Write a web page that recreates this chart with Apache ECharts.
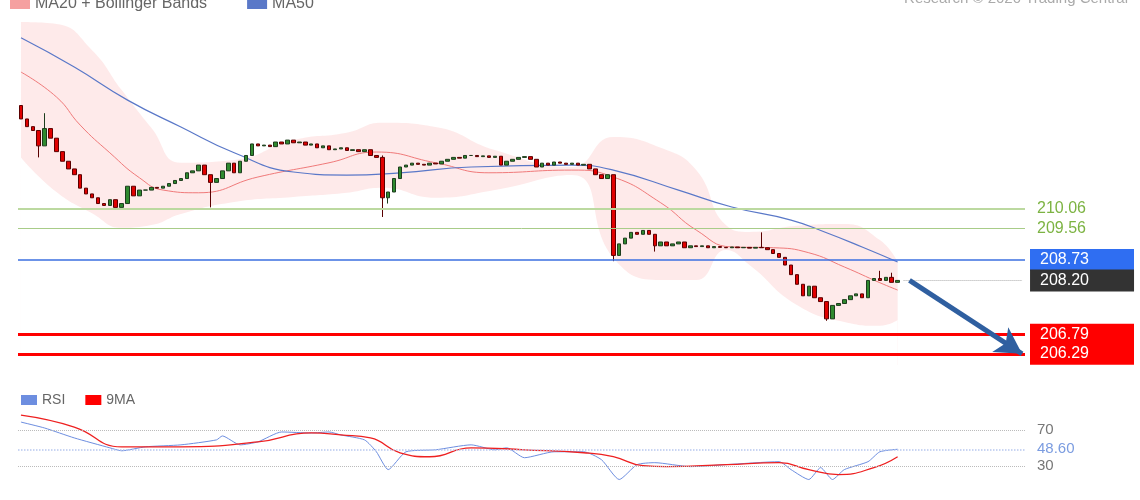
<!DOCTYPE html>
<html>
<head>
<meta charset="utf-8">
<script src="https://cdn.jsdelivr.net/npm/echarts@6/dist/echarts.min.js"></script>
<style>
  html, body { margin: 0; padding: 0; background: #fff; }
  #chart { width: 1140px; height: 500px; }
</style>
</head>
<body>
<div id="chart"></div>
<script>
// price candles: closes, open of each bar is the previous close
const firstOpen = 212.75
const closes = [
  212.40, 212.20, 212.10, 211.70, 212.15, 211.90, 211.55, 211.30, 211.10, 210.95,
  210.60, 210.45, 210.35, 210.20, 210.15, 210.30, 210.10, 210.20, 210.65, 210.40,
  210.55, 210.55, 210.62, 210.60, 210.65, 210.72, 210.80, 210.85, 211.00, 211.05,
  211.20, 210.95, 210.75, 210.85, 211.05, 211.25, 211.00, 211.30, 211.45, 211.75,
  211.70, 211.72, 211.68, 211.80, 211.75, 211.85, 211.78, 211.80, 211.72, 211.75,
  211.65, 211.70, 211.60, 211.62, 211.65, 211.58, 211.60, 211.55, 211.60, 211.45,
  211.40, 210.35, 210.50, 210.85, 211.15, 211.20, 211.25, 211.22, 211.20, 211.25,
  211.23, 211.30, 211.35, 211.40, 211.38, 211.45, 211.45, 211.42, 211.44, 211.40,
  211.43, 211.20, 211.30, 211.35, 211.40, 211.42, 211.35, 211.15, 211.25, 211.20,
  211.28, 211.25, 211.22, 211.25, 211.20, 211.22, 211.10, 210.95, 210.85, 210.95,
  208.85, 209.15, 209.30, 209.45, 209.40, 209.50, 209.40, 209.10, 209.20, 209.10,
  209.15, 209.20, 209.05, 209.10, 209.08, 209.10, 209.05, 209.08, 209.06, 209.05,
  209.07, 209.05, 209.06, 209.04, 209.06, 209.05, 209.00, 208.90, 208.80, 208.60,
  208.35, 208.10, 207.80, 208.05, 207.75, 207.65, 207.20, 207.55, 207.60, 207.70,
  207.80, 207.85, 207.75, 208.20, 208.25, 208.20, 208.28, 208.15, 208.20
]
// wicks that reach beyond the body: index -> [low, high]
const wicks = {
  3: [211.40, 212.10], 4: [211.70, 212.55], 32: [210.10, 210.95], 61: [209.85, 211.45],
  62: [210.20, 210.50], 100: [208.70, 210.95], 107: [208.95, 209.40],
  125: [209.05, 209.45], 136: [207.15, 207.65], 145: [208.20, 208.45], 147: [208.15, 208.40]
}

// MA and bands as [bar index, value]
const ma20 = [[0,213.62],[6,212.97],[10,212.24],[15,211.52],[20,210.87],[24,210.55],[30,210.48],
  [40,210.89],[52,211.26],[60,211.54],[70,211.26],[79,211.00],[93,211.07],[100,210.89],
  [108,210.22],[114,209.51],[120,209.07],[127,209.05],[133,208.92],[139,208.55],[145,208.14],[148,207.95]]
const ma50 = [[0,214.51],[9,213.75],[18,212.89],[27,212.19],[36,211.52],[46,211.02],[55,210.94],
  [64,211.00],[76,211.15],[93,211.20],[100,211.07],[111,210.55],[120,210.11],[130,209.77],
  [136,209.44],[142,209.07],[148,208.68]]
const bandIdx = [0, 6, 12, 17, 22, 27, 36, 46, 55, 61, 70, 80, 93, 100, 108, 114, 119, 123, 131, 139, 145, 148]
const bandUpper = [214.92, 214.87, 214.19, 213.15, 212.17, 211.26, 211.33, 211.85, 212.04, 212.30, 212.19,
  211.59, 211.15, 211.93, 211.65, 211.07, 209.64, 209.46, 209.62, 209.67, 209.25, 208.68]
const bandLower = [211.40, 210.50, 209.95, 209.57, 209.64, 209.93, 210.24, 210.37, 210.48, 210.61, 210.35,
  210.55, 210.94, 208.79, 208.21, 208.21, 208.99, 208.60, 207.56, 207.12, 207.02, 207.17]

// RSI pane
const rsi = [[0,78.8],[4,72.2],[9,61.2],[15,50.2],[17,46.9],[21,51.3],[27,53.5],[33,59.0],[34,63.4],
  [37,53.5],[40,56.8],[44,67.8],[49,66.7],[52,67.8],[54,64.5],[58,59.0],[60,45.8],[62,26.0],[65,45.8],
  [70,48.0],[76,53.5],[80,48.0],[82,50.2],[85,39.2],[90,45.8],[95,45.8],[98,37.0],[101,15.0],[104,31.5],
  [107,33.7],[113,29.3],[119,31.5],[128,34.8],[130,26.0],[133,15.0],[135,28.2],[137,15.0],[139,26.0],
  [143,34.8],[145,45.8],[148,48.6]]
const rsiMa = [[0,86.5],[9,73.3],[17,51.3],[27,51.3],[40,56.8],[49,66.7],[54,64.5],[59,61.2],[64,44.7],
  [69,40.3],[76,50.2],[85,48.0],[95,44.7],[100,40.3],[105,30.4],[109,29.3],[119,31.5],[128,33.7],
  [133,26.0],[138,20.5],[144,28.2],[148,40.3]]

// levels
const resistances = [210.06, 209.56]
const pivot = 208.73
const lastPrice = 208.20
const supports = [206.79, 206.29]
const rsiLevels = [70, 30]
const rsiLast = 48.60

const nCats = 170
const cats = []
for (let i = 0; i < nCats; i++) cats.push('b' + i)

const candles = closes.map((c, i) => {
  const o = i ? closes[i - 1] : firstOpen
  const w = wicks[i] || [Math.min(o, c), Math.max(o, c)]
  return [o, c, Math.min(w[0], o, c), Math.max(w[1], o, c)]
})
const upperData = bandIdx.map((x, i) => [x, bandUpper[i]])
const lowerData = bandIdx.map((x, i) => [x, bandLower[i]])

const font = 'Liberation Sans'
const boxLabel = (bg, fg, text, dist) => ({
  show: true, position: 'end', distance: dist || 5, formatter: text || '{c}', color: fg,
  backgroundColor: bg, fontSize: 16, fontFamily: font, width: 88, height: 17,
  padding: [3, 6, 2, 10], align: 'left'
})

const el = echarts.init(document.getElementById('chart'), null, { renderer: 'canvas' })
el.setOption({
  animation: false,
  backgroundColor: '#fff',
  textStyle: { fontFamily: font },
  legend: [
    {
      data: ['MA20 + Bollinger Bands', 'MA50'], left: 5, top: -9, itemWidth: 20, itemHeight: 10,
      itemGap: 40, icon: 'rect', selectedMode: false,
      textStyle: { color: '#666', fontSize: 16, fontFamily: font }
    },
    {
      data: ['RSI', '9MA'], left: 16, top: 388, itemWidth: 16, itemHeight: 10, itemGap: 20,
      icon: 'rect', selectedMode: false, textStyle: { color: '#666', fontSize: 14, fontFamily: font }
    }
  ],
  graphic: [{
    type: 'text', right: 12, top: -9,
    style: { text: 'Research © 2020 Trading Central', fill: '#aaa', fontSize: 15, fontFamily: font }
  }],
  grid: [
    { left: 18, right: 115, top: 19, height: 346 },
    { left: 18, right: 115, top: 403, height: 90 }
  ],
  xAxis: [
    { type: 'category', data: cats, gridIndex: 0, show: false },
    { type: 'category', data: cats, gridIndex: 1, show: false }
  ],
  yAxis: [
    { type: 'value', min: 206, max: 215, gridIndex: 0, show: false, splitLine: { show: false } },
    { type: 'value', min: 0, max: 100, gridIndex: 1, show: false, splitLine: { show: false } }
  ],
  series: [
    {
      name: 'bandUpper', type: 'line', data: upperData, smooth: true, symbol: 'none', z: 1,
      lineStyle: { width: 0 }, areaStyle: { color: 'rgba(252,200,200,0.55)', origin: 'start' }
    },
    {
      name: 'bandLower', type: 'line', data: lowerData, smooth: true, symbol: 'none', z: 2,
      lineStyle: { width: 0 }, areaStyle: { color: '#fff', opacity: 1, origin: 'start' }
    },
    {
      name: 'MA20 + Bollinger Bands', type: 'line', data: ma20, smooth: true, symbol: 'none', z: 3,
      color: '#f5a0a0', lineStyle: { width: 1, color: '#f07a7a' }
    },
    {
      name: 'MA50', type: 'line', data: ma50, smooth: true, symbol: 'none', z: 3,
      color: '#5a78c8', lineStyle: { width: 1.2, color: '#5a78c8' }
    },
    {
      name: 'price', type: 'candlestick', data: candles, z: 4, barWidth: 4,
      itemStyle: {
        color: '#2f8a2f', color0: '#e00000', borderColor: '#1d3d1d', borderColor0: '#5a0000', borderWidth: 1
      },
      markLine: {
        silent: true, symbol: 'none', animation: false,
        data: [
          { yAxis: resistances[0], lineStyle: { color: '#bcd9a0', width: 2, type: 'solid' },
            label: { show: true, position: 'end', distance: 12, formatter: '{c}', color: '#7cb342', fontSize: 16, fontFamily: font } },
          { yAxis: resistances[1], lineStyle: { color: '#a8cc88', width: 1, type: 'solid' },
            label: { show: true, position: 'end', distance: 12, formatter: '{c}', color: '#7cb342', fontSize: 16, fontFamily: font } },
          { yAxis: pivot, lineStyle: { color: '#3b6fe0', width: 1.5, type: 'solid' }, label: boxLabel('#2f6ef2', '#fff') },
          { yAxis: supports[0], lineStyle: { color: '#f00', width: 3, type: 'solid' }, label: boxLabel('#f00', '#fff') },
          { yAxis: supports[1], lineStyle: { color: '#f00', width: 3, type: 'solid' }, label: boxLabel('#f00', '#fff') },
          [
            { coord: ['b149', lastPrice], lineStyle: { color: '#aaa', width: 1, type: 'dotted' },
              label: boxLabel('#333', '#fff', lastPrice.toFixed(2), 8) },
            { coord: ['b169', lastPrice] }
          ],
          [
            { coord: [150, lastPrice], symbol: 'none', lineStyle: { color: '#2f5fa0', width: 5, type: 'solid' }, label: { show: false } },
            { coord: [168.5, supports[1]], symbol: 'arrow', symbolSize: [22, 26] }
          ]
        ]
      }
    },
    {
      name: 'RSI', type: 'line', data: rsi, xAxisIndex: 1, yAxisIndex: 1, symbol: 'none', smooth: 0.2,
      color: '#6d8ee0', lineStyle: { width: 1, color: '#6d8ee0' },
      markLine: {
        silent: true, symbol: 'none',
        data: [
          { yAxis: rsiLevels[0], lineStyle: { color: '#bbb', type: 'dotted', width: 1 },
            label: { show: true, position: 'end', distance: 12, formatter: '{c}', color: '#777', fontSize: 15, fontFamily: font } },
          { yAxis: rsiLevels[1], lineStyle: { color: '#bbb', type: 'dotted', width: 1 },
            label: { show: true, position: 'end', distance: 12, formatter: '{c}', color: '#777', fontSize: 15, fontFamily: font } },
          { yAxis: rsiLast, lineStyle: { color: '#b8c8ee', type: 'dotted', width: 1.5 },
            label: { show: true, position: 'end', distance: 12, formatter: rsiLast.toFixed(2), color: '#7b9ce0', fontSize: 15, fontFamily: font } }
        ]
      }
    },
    {
      name: '9MA', type: 'line', data: rsiMa, xAxisIndex: 1, yAxisIndex: 1, symbol: 'none', smooth: true,
      color: '#f00', lineStyle: { width: 1.3, color: '#ee2020' }
    }
  ]
})
</script>
</body>
</html>
